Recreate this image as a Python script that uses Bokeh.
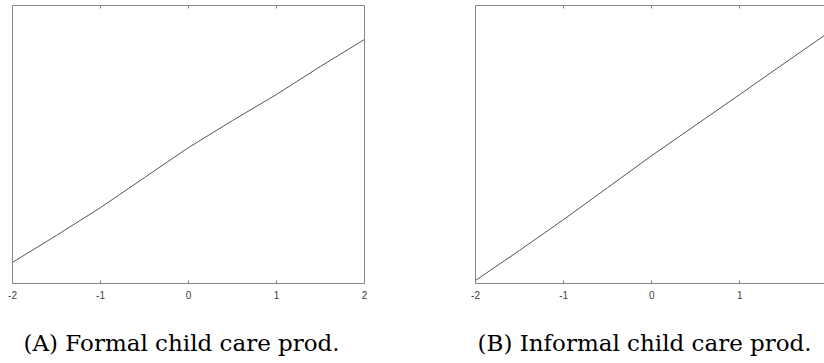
from bokeh.plotting import figure
from bokeh.layouts import row
from bokeh.models import Range1d, LinearAxis, FixedTicker, Title
from bokeh.embed import file_html
from bokeh.resources import INLINE

# data (x = grid point, y = normalized output)
x_grid = [-2, -1.5, -1, -0.5, 0, 0.5, 1, 1.5, 2]
formal_prod = [0.076, 0.173, 0.273, 0.381, 0.489, 0.586, 0.680, 0.781, 0.878]
informal_prod = [0.011, 0.119, 0.230, 0.345, 0.460, 0.570, 0.680, 0.791, 0.901]
x_ticks = [-2, -1, 0, 1, 2]
x_tick_labels = ["-2", "-1", "0", "1", "2"]
captions = ["(A) Formal child care prod.", "(B) Informal child care prod."]

BOX = "#858585"
LINE = "#555555"


def make_panel(ys, caption, x_end, min_left, min_right, frame_w, right_axis, cap_off):
    p = figure(output_backend="svg", toolbar_location=None,
               frame_width=frame_w, frame_height=278,
               x_range=Range1d(-2, x_end), y_range=Range1d(0, 1),
               min_border_left=min_left, min_border_right=min_right,
               min_border_top=5, min_border_bottom=0,
               x_axis_location=None, y_axis_location=None,
               background_fill_color="white", border_fill_color="white")
    p.outline_line_color = None
    p.grid.visible = False

    def ax(loc, labels):
        ticks = x_ticks if loc in ("below", "above") else []
        a = LinearAxis(ticker=FixedTicker(ticks=ticks))
        a.axis_line_color = BOX
        a.major_tick_line_color = BOX
        a.major_tick_in = 3 if ticks else 0
        a.major_tick_out = 0
        a.minor_tick_line_color = None
        a.major_label_standoff = 7
        a.major_label_text_font = "Liberation Sans"
        a.major_label_text_font_size = "10px"
        a.major_label_text_color = "#404040"
        if labels:
            a.major_label_overrides = dict(zip(x_ticks, x_tick_labels))
        else:
            a.major_label_overrides = {t: "" for t in ticks}
            a.major_label_standoff = 0
        p.add_layout(a, loc)

    ax("below", True)
    ax("above", False)
    ax("left", False)
    if right_axis:
        ax("right", False)

    p.line(x_grid, ys, line_color=LINE, line_width=1)

    t = Title(text=caption, align="left", text_font="DejaVu Serif",
              text_font_size="23px", text_font_style="normal",
              text_color="black", standoff=52, offset=cap_off)
    p.add_layout(t, "below")
    return p


pa = make_panel(formal_prod, captions[0], 2, 12, 48, 352, True, 11)
pb = make_panel(informal_prod, captions[1], 1.961, 63, 0, 349, False, 2)

layout = row(pa, pb)
open("out.html", "w").write(file_html(layout, INLINE))
